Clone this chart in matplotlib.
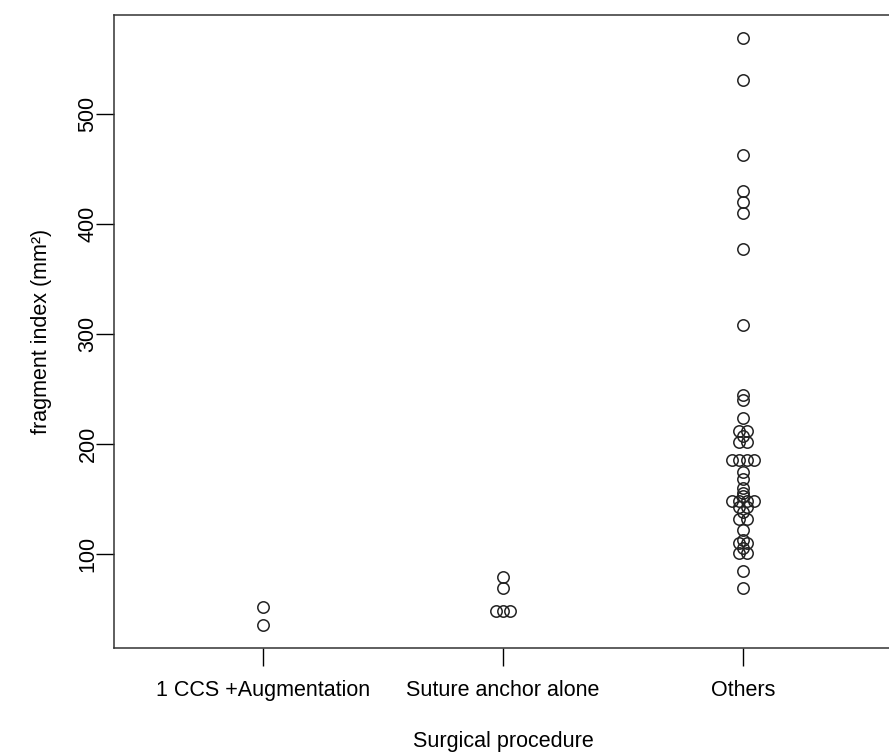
import numpy as np
import matplotlib
matplotlib.use("Agg")
import matplotlib.pyplot as plt

# groupes et valeurs (mm²)
groups = ["1 CCS +Augmentation", "Suture anchor alone", "Others"]
ccs_aug = [36, 52]
anchor = [48, 48, 48, 69, 79]
others = [69, 85, 101, 101, 106, 110, 110, 113, 122, 132, 132, 138, 143, 143,
          148, 148, 148, 148, 153, 156, 160, 168, 175,
          186, 186, 186, 186, 202, 202, 207, 212, 212,
          224, 240, 245, 308, 377, 410, 420, 430, 463, 531, 569]
data = [ccs_aug, anchor, others]

plt.rcParams["font.family"] = ["Liberation Sans", "DejaVu Sans"]
plt.rcParams["font.size"] = 15.5

fig = plt.figure(figsize=(8.89, 7.53), dpi=100)
W, H = 889, 753
ax = fig.add_axes([114 / W, (H - 648) / H, (892 - 114) / W, (648 - 14.7) / H])

allv = np.concatenate([np.array(d, float) for d in data])
lo, hi = allv.min(), allv.max()
pad = 0.04 * (hi - lo)
ax.set_ylim(lo - pad, hi + pad)
ax.set_xlim(0.5 - 0.04 * 3, 3.5 + 0.04 * 3)


def center_rows(vals, xc, spacing_px=7.4):
    # valeurs égales alignées sur une ligne, centrées sur le groupe
    vals = np.asarray(vals, float)
    x0 = ax.transData.transform((xc, 0))[0]
    x1 = ax.transData.transform((xc + 1, 0))[0]
    step = spacing_px / (x1 - x0)
    xs = np.full(len(vals), float(xc))
    for v in np.unique(vals):
        idx = np.where(vals == v)[0]
        n = len(idx)
        xs[idx] = xc + (np.arange(n) - (n - 1) / 2) * step
    return xs


for k, vals in enumerate(data):
    xs = center_rows(vals, k + 1)
    ax.plot(xs, vals, "o", mfc="none", mec="#222222", mew=1.1, ms=8.2, ls="none")

ax.set_xticks([1, 2, 3])
ax.set_xticklabels(groups)
ax.set_yticks([100, 200, 300, 400, 500])
ax.tick_params(axis="y", labelrotation=90, length=12.7, width=1, pad=-1.5)
ax.tick_params(axis="x", length=12.7, width=1, pad=10)
for lab in ax.get_yticklabels():
    lab.set_va("center")
for s in ax.spines.values():
    s.set_linewidth(1.1)
    s.set_color("#333333")

ax.set_ylabel("fragment index (mm²)", va="center")
ax.yaxis.set_label_coords((42 - 114) / 778, 0.5)
ax.set_xlabel("Surgical procedure", va="baseline")
ax.xaxis.set_label_coords(0.5, (648 - 747) / 633.3)

fig.savefig("out.png", dpi=100)
